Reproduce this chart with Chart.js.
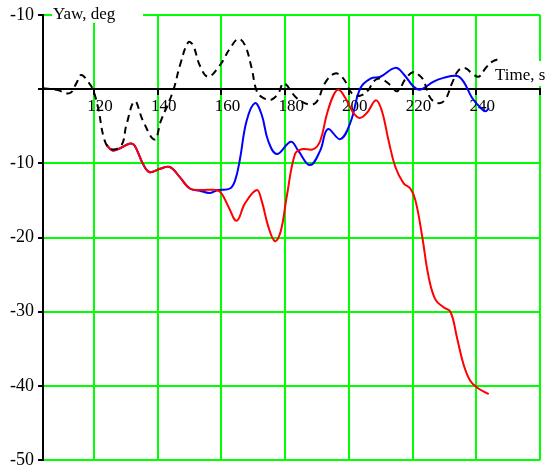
<!DOCTYPE html>
<html>
<head>
<meta charset="utf-8">
<script src="https://cdn.jsdelivr.net/npm/chart.js@4.4.1/dist/chart.umd.min.js"></script>
<style>
  body { margin: 0; background: #fff; }
</style>
</head>
<body>
<canvas id="yaw" width="547" height="475"></canvas>
<script>
// values
const dashTime = [104, 108.2, 112.4, 114.5, 116, 118.1, 119.7, 121.3, 123.4, 125.5, 128.6, 130.2, 132.8, 135.4, 139, 141,
  144.8, 147, 149.6, 151.1, 153.2, 155.8, 159.5, 162.6, 165.3, 167.4, 169.5, 171.1, 173.1, 175.8, 177.9, 179.6,
  183.6, 187.8, 190, 192.5, 195.7, 198.3, 200.9, 203.5, 206.2, 207.7, 209.8, 213, 215.2, 218, 220.3, 222, 223.4,
  225.6, 228.2, 230.3, 232.4, 234.5, 236.6, 238.7, 240.8, 242.9, 245, 247.6];
const dashYaw = [0.1, -0.1, -0.55, 0.8, 1.9, 1.0, -0.1, -2.55, -7.0, -8.1, -7.6, -4.8, -1.66, -4.3, -6.8, -4.3,
  -0.3, 3.2, 6.3, 5.9, 3.2, 1.66, 3.2, 5.4, 6.75, 5.9, 2.8, -0.3, -1.2, -1.4, -0.55, 0.8,
  -1.2, -2.1, -1.66, 0.8, 2.1, 1.4, -0.55, -0.9, -0.1, 1.0, 1.4, 0.55, -0.3, 1.5, 2.3, 1.9, 1.2,
  -1.2, -1.9, -1.4, 0.8, 2.55, 2.8, 2.1, 1.66, 2.8, 3.7, 4.1];

const blueTime = [123.9, 125.7, 127.6, 131.4, 132.8, 135.4, 137.5, 140.7, 143.8, 147, 150.1, 153.2, 156.4, 159,
  162.7, 164.3, 165.8, 167.9, 170.5, 172.6, 174.7, 177.4, 181.8, 184.1, 187.8, 191, 193.4, 197.3, 200.5, 203.6,
  206.8, 209.9, 214.6, 217.2, 220.3, 222.4, 226.6, 229.7, 234, 236, 238.7, 241.4, 242.9, 244];
const blueYaw = [-7.5, -8.25, -8.1, -7.35, -7.65, -10.1, -11.2, -10.75, -10.5, -11.9, -13.4, -13.7, -14, -13.6,
  -13.4, -12.3, -9.5, -4.3, -1.9, -3.4, -7.0, -8.75, -7.1, -8.3, -10.25, -8.3, -5.4, -6.75, -4.5, 0.1,
  1.4, 1.66, 2.85, 2.0, 0.33, -0.1, 1.0, 1.5, 1.75, 1.0, -1.2, -2.55, -3.0, -2.55];

const redTime = [123.9, 125.7, 127.6, 131.4, 132.8, 135.4, 137.5, 140.7, 143.8, 147, 150.1, 153.2, 158.5, 160.1,
  162.2, 164.8, 167.4, 171.1, 172.6, 174.7, 176.8, 178.6, 180.5, 183.1, 185.2, 188.9, 191, 193.1, 195.2, 196.8,
  198.9, 201.4, 203.4, 205.7, 208.5, 210.4, 212.5, 214.6, 217.2, 219.3, 220.9, 223, 225, 227.1, 229.7, 231.9,
  234, 236, 238.1, 240.2, 243.9];
const redYaw = [-7.5, -8.25, -8.1, -7.35, -7.65, -10.1, -11.2, -10.75, -10.5, -11.9, -13.4, -13.6, -13.6, -14.1,
  -15.85, -17.75, -15.4, -13.6, -15, -18.5, -20.5, -19.2, -14.5, -8.75, -8.1, -8.1, -7.0, -3.4, -0.8, -0.1,
  -1.2, -3.2, -3.9, -3.2, -1.5, -3.0, -7.0, -10.5, -12.7, -13.4, -15, -19.8, -25.2, -28.3, -29.4, -30,
  -33.6, -37.1, -39.3, -40.2, -41.1];

const timeTicks = [120, 140, 160, 180, 200, 220, 240, 260];

function pts(xs, ys) {
    return xs.map((x, i) => ({x: x, y: ys[i]}));
}

const serif = '"Liberation Serif", "DejaVu Serif", serif';
const green = '#00ff00';

// axis titles sit on small white boxes, like the original
const axisNames = {
    id: 'axisNames',
    beforeDatasetsDraw(chart) {
        const ctx = chart.ctx;
        ctx.save();
        ctx.fillStyle = '#fff';
        ctx.fillRect(52, 2, 91, 21);
        ctx.fillRect(493, 61, 54, 25);
        ctx.fillStyle = '#000';
        ctx.font = '17px ' + serif;
        ctx.textBaseline = 'alphabetic';
        ctx.fillText('Yaw, deg', 53, 19);
        ctx.fillText('Time, s', 495, 80);
        ctx.restore();
    }
};

const data = {
    datasets: [{
            label: 'dashed',
            data: pts(dashTime, dashYaw),
            borderColor: '#000',
            borderWidth: 2,
            borderDash: [7, 5],
            order: 0
        }, {
            label: 'red',
            data: pts(redTime, redYaw),
            borderColor: '#ff0000',
            borderWidth: 2,
            order: 1
        }, {
            label: 'blue',
            data: pts(blueTime, blueYaw),
            borderColor: '#0000ff',
            borderWidth: 2,
            order: 2
        }]
};

const config = {
    type: 'line',
    data: data,
    plugins: [axisNames],
    options: {
        responsive: false,
        animation: false,
        events: [],
        elements: {
            point: {radius: 0},
            line: {tension: 0.4, fill: false}
        },
        layout: {padding: {top: 12, right: 7, bottom: 11, left: 0}},
        plugins: {legend: {display: false}, tooltip: {enabled: false}},
        scales: {
            x: {
                type: 'linear',
                position: {y: 0},
                min: 104,
                max: 260,
                afterBuildTicks: (scale) => { scale.ticks = timeTicks.map(v => ({value: v})) },
                afterFit: (scale) => { scale.height = 0 },
                grid: {color: green, lineWidth: 2, tickColor: '#000', tickLength: 5},
                border: {color: '#000', width: 2},
                ticks: {
                    color: '#000',
                    font: {family: serif, size: 17},
                    padding: 2,
                    labelOffset: 6,
                    maxRotation: 0,
                    autoSkip: false,
                    callback: (v) => v === 260 ? '' : String(v)
                }
            },
            y: {
                type: 'linear',
                min: -50,
                max: 10,
                afterFit: (scale) => { scale.width = 43 },
                grid: {
                    color: (c) => c.tick && c.tick.value === 0 ? 'rgba(0,0,0,0)' : green,
                    lineWidth: 2,
                    tickColor: '#000',
                    tickLength: 5
                },
                border: {color: '#000', width: 2},
                ticks: {
                    stepSize: 10,
                    color: '#000',
                    font: {family: serif, size: 18},
                    padding: 4,
                    callback: (v) => v === 0 ? '' : (v === 10 ? '-10' : String(v))
                }
            }
        }
    }
};

let ctx = document.getElementById('yaw').getContext('2d')
new Chart(ctx, config)
</script>
</body>
</html>
